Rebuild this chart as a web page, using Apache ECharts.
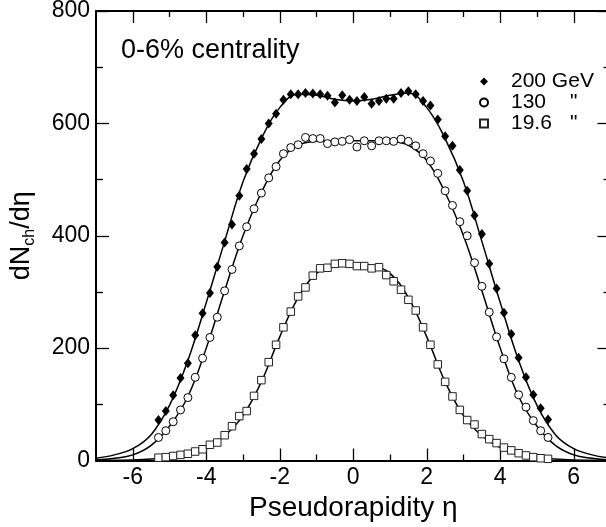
<!DOCTYPE html>
<html>
<head>
<meta charset="utf-8">
<script src="https://cdn.jsdelivr.net/npm/echarts@6/dist/echarts.min.js"></script>
<style>
html,body{margin:0;padding:0;background:#fff;}
#chart{width:606px;height:527px;}
</style>
</head>
<body>
<div id="chart"></div>
<script>
// ---- data ----
var etaData = [-5.3,-5.1,-4.9,-4.7,-4.5,-4.3,-4.1,-3.9,-3.7,-3.5,-3.3,-3.1,-2.9,-2.7,-2.5,-2.3,-2.1,-1.9,-1.7,-1.5,-1.3,-1.1,-0.9,-0.7,-0.5,-0.3,-0.1,
               0.1,0.3,0.5,0.7,0.9,1.1,1.3,1.5,1.7,1.9,2.1,2.3,2.5,2.7,2.9,3.1,3.3,3.5,3.7,3.9,4.1,4.3,4.5,4.7,4.9,5.1,5.3];
var data200 = [72,88,116,147,173,223,262,298,345,388,420,471,519,546,572,600,617,642,652,652,654,653,652,649,637,650,642,
               640,647,635,640,644,644,654,657,652,640,632,607,577,560,517,480,436,403,350,306,263,225,183,148,117,93,73];
var data130 = [41,53,69,90,112,148,182,219,255,302,340,382,416,448,476,503,523,546,557,562,575,573,573,564,567,568,571,
               558,569,560,569,569,568,572,568,560,546,533,511,480,454,425,400,352,310,264,220,181,148,117,95,71,53,41];
var data196 = [5,6,8,10,12,16,20,28,32,45,61,79,88,115,143,175,206,237,265,292,308,329,342,343,350,351,350,
               346,346,342,344,330,319,304,286,267,237,206,171,140,114,90,72,64,47,38,31,23,18,13,9,6,4,3];

var etaFit = [-7,-6.5,-6,-5.5,-5,-4.5,-4,-3.5,-3,-2.5,-2,-1.5,-1,-0.5,0,0.5,1,1.5,2,2.5,3,3.5,4,4.5,5,5.5,6,6.5,7];
var fit200 = [4,10,21,46,98,178,281,390,496,573,628,652,650,643,640,643,650,654,628,573,496,390,281,178,98,46,21,10,4];
var fit130 = [1,4,10,27,61,114,200,302,400,477,534,561,568,569,569,569,568,561,534,477,400,302,200,114,61,27,10,4,1];
var fit196 = [0,0.5,1,2.5,5.5,11,23,44,80,140,220,290,333,347,349,347,333,290,220,140,80,44,23,11,5.5,2.5,1,0.5,0];

var seriesNames = ['200 GeV', '130', '19.6'];
var legendQuotes = ['', '"', '"'];
var xMajorTicks = [-6,-4,-2,0,2,4,6];
var xMinorTicks = [-5,-3,-1,1,3,5];
var annotation = '0-6% centrality';
var xTitle = 'Pseudorapidity η';

function pairs(xs, ys){ return xs.map(function(x,i){ return [x, ys[i]]; }); }

var FONT = '"Liberation Sans", Arial, Helvetica, sans-serif';
var black = '#000';

var chart = echarts.init(document.getElementById('chart'), null, {renderer:'canvas'});

function xAx(pos, ticks, len, showLine, showLabel, extra){
  var a = {
    type:'value', min:-7, max:7, interval:1, position:pos, gridIndex:0,
    axisLine:{show:showLine, onZero:false, lineStyle:{color:black, width:2}},
    axisTick:{show:true, inside:true, length:len, customValues:ticks, lineStyle:{color:black, width:1.3}},
    axisLabel:{show:showLabel, customValues:ticks, margin:6, color:black, fontSize:23, fontFamily:FONT},
    splitLine:{show:false}
  };
  if (extra) for (var k in extra) a[k] = extra[k];
  return a;
}
function yAx(pos, showLabel, extra){
  var a = {
    type:'value', min:0, max:800, interval:200, position:pos, gridIndex:0,
    axisLine:{show:true, onZero:false, lineStyle:{color:black, width:2}},
    axisTick:{show:true, inside:true, length:13, lineStyle:{color:black, width:1.3}},
    minorTick:{show:true, splitNumber:2, length:7, lineStyle:{color:black, width:1.3}},
    axisLabel:{show:showLabel, margin:6, color:black, fontSize:23, fontFamily:FONT},
    splitLine:{show:false}, minorSplitLine:{show:false}
  };
  if (extra) for (var k in extra) a[k] = extra[k];
  return a;
}

var option = {
  animation:false,
  backgroundColor:'#fff',
  textStyle:{fontFamily:FONT},
  grid:{left:96, top:11, width:514.5, bottom:66.5, containLabel:false, outerBoundsMode:'none', show:false},
  title:{text:annotation, left:121, top:37, padding:0,
         textStyle:{fontSize:27, fontWeight:'normal', color:black, fontFamily:FONT}},
  legend:{
    orient:'vertical', left:479, top:71, padding:0, itemGap:0,
    itemWidth:8, itemHeight:8,
    data:seriesNames,
    formatter:function(name){
      var i = seriesNames.indexOf(name);
      return '{p|}{n|' + name + '}{q|' + legendQuotes[i] + '}';
    },
    textStyle:{color:black, fontFamily:FONT, fontSize:21,
      rich:{
        p:{width:18, lineHeight:22},
        n:{width:59, fontSize:21, lineHeight:22, color:black, fontFamily:FONT},
        q:{fontSize:21, lineHeight:22, color:black, fontFamily:FONT}
      }}
  },
  xAxis:[
    xAx('bottom', xMajorTicks, 12, true, true, {name:xTitle, nameLocation:'middle', nameGap:28,
        nameTextStyle:{fontSize:28, color:black, fontFamily:FONT}}),
    xAx('bottom', xMinorTicks, 6, false, false),
    xAx('top', xMajorTicks, 12, true, false),
    xAx('top', xMinorTicks, 6, false, false)
  ],
  yAxis:[
    yAx('left', true, {
      name:'{a|dN}{b|ch}{a|/dη}', nameLocation:'middle', nameGap:58,
      nameTextStyle:{color:black, fontFamily:FONT,
        rich:{
          a:{fontSize:27, lineHeight:32, verticalAlign:'middle', color:black, fontFamily:FONT},
          b:{fontSize:16, lineHeight:16, verticalAlign:'bottom', color:black, fontFamily:FONT}
        }}
    }),
    yAx('right', false)
  ],
  series:[
    {name:'fit200', type:'line', data:pairs(etaFit, fit200), smooth:0.4, showSymbol:false, silent:true,
     lineStyle:{color:black, width:1.5}, z:2},
    {name:'fit130', type:'line', data:pairs(etaFit, fit130), smooth:0.4, showSymbol:false, silent:true,
     lineStyle:{color:black, width:1.5}, z:2},
    {name:'fit19.6', type:'line', data:pairs(etaFit, fit196), smooth:0.4, showSymbol:false, silent:true,
     lineStyle:{color:black, width:1.5}, z:2},
    {name:seriesNames[0], type:'scatter', data:pairs(etaData, data200), symbol:'diamond', symbolSize:[8,10],
     itemStyle:{color:black, opacity:1}, z:5},
    {name:seriesNames[1], type:'scatter', data:pairs(etaData, data130), symbol:'circle', symbolSize:8,
     itemStyle:{color:'#fff', borderColor:black, borderWidth:1, opacity:1}, z:5},
    {name:seriesNames[2], type:'scatter', data:pairs(etaData, data196), symbol:'rect', symbolSize:7.5,
     itemStyle:{color:'#fff', borderColor:'#222', borderWidth:1, opacity:1}, z:5}
  ]
};
chart.setOption(option);
</script>
</body>
</html>
